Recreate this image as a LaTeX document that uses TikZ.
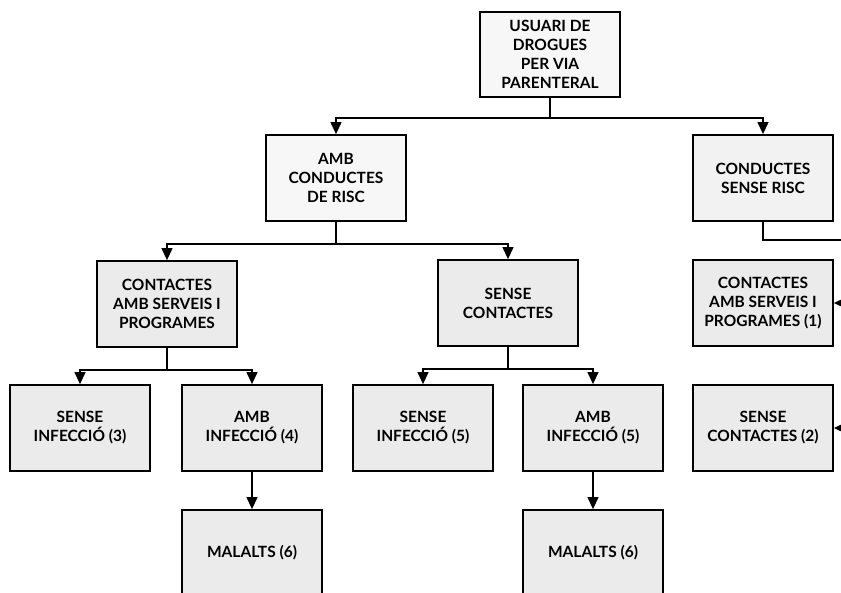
\documentclass[tikz,border=0pt]{standalone}
\usepackage{fontspec}
\setmainfont{Lato}
\usetikzlibrary{arrows.meta}
\newcommand{\widthbox}{140pt}
\newcommand{\heightbox}{86pt}
\tikzset{
    common/.style={draw, rectangle, line width=1.8pt, align=center, minimum width=\widthbox, minimum height=\heightbox, font=\bfseries\fontsize{15.5}{19}\selectfont},
    plainbox/.style={common, fill=black!3},
    greybox/.style={common, fill=black!8},
    link/.style={line width=1.2pt}
}

\begin{document}
\begin{tikzpicture}[x=1pt, y=-1pt, >={Triangle[length=12pt, width=11pt]}]
    \useasboundingbox (0,0) rectangle (841,592);
    \clip (0,0) rectangle (841,592);

    \node[plainbox, minimum height=85pt] (L0-root) at (550,54.5) {USUARI DE\\DROGUES\\PER VIA\\PARENTERAL};

    \node[plainbox] (L1-amb) at (336,178) {AMB\\CONDUCTES\\DE RISC};
    \node[plainbox, fill=black!5] (L1-sense) at (763,178) {CONDUCTES\\SENSE RISC};

    \node[greybox] (L2-contactes) at (167,304) {CONTACTES\\AMB SERVEIS I\\PROGRAMES};
    \node[greybox] (L2-sense) at (508,303) {SENSE\\CONTACTES};
    \node[greybox] (R-contactes) at (763,303) {CONTACTES\\AMB SERVEIS I\\PROGRAMES (1)};

    \node[greybox] (L3-sense-a) at (80,428) {SENSE\\INFECCIÓ (3)};
    \node[greybox] (L3-amb-a) at (252,428) {AMB\\INFECCIÓ (4)};
    \node[greybox] (L3-sense-b) at (423,428) {SENSE\\INFECCIÓ (5)};
    \node[greybox] (L3-amb-b) at (593,428) {AMB\\INFECCIÓ (5)};
    \node[greybox] (R-sense) at (763,428) {SENSE\\CONTACTES (2)};

    \node[greybox] (L4-malalts-a) at (252,553) {MALALTS (6)};
    \node[greybox] (L4-malalts-b) at (593,553) {MALALTS (6)};

    \coordinate (R-top) at (852,240);
    \coordinate (R-bottom) at (852,470);

    \draw[link, ->] (L0-root.south) -- ++(0,20) -| (L1-amb.north);
    \draw[link, ->] (L0-root.south) -- ++(0,20) -| (L1-sense.north);
    \draw[link, ->] (L1-amb.south) -- ++(0,22) -| (L2-contactes.north);
    \draw[link, ->] (L1-amb.south) -- ++(0,22) -| (L2-sense.north);
    \draw[link, ->] (L2-contactes.south) -- ++(0,22) -| (L3-sense-a.north);
    \draw[link, ->] (L2-contactes.south) -- ++(0,22) -| (L3-amb-a.north);
    \draw[link, ->] (L2-sense.south) -- ++(0,22) -| (L3-sense-b.north);
    \draw[link, ->] (L2-sense.south) -- ++(0,22) -| (L3-amb-b.north);
    \draw[link, ->] (L3-amb-a.south) -- (L4-malalts-a.north);
    \draw[link, ->] (L3-amb-b.south) -- (L4-malalts-b.north);

    \draw[link] (L1-sense.south) |- (R-top) -- (R-bottom);
    \draw[link, ->] (R-top |- R-contactes.east) -- (R-contactes.east);
    \draw[link, ->] (R-top |- R-sense.east) -- (R-sense.east);
\end{tikzpicture}
\end{document}
